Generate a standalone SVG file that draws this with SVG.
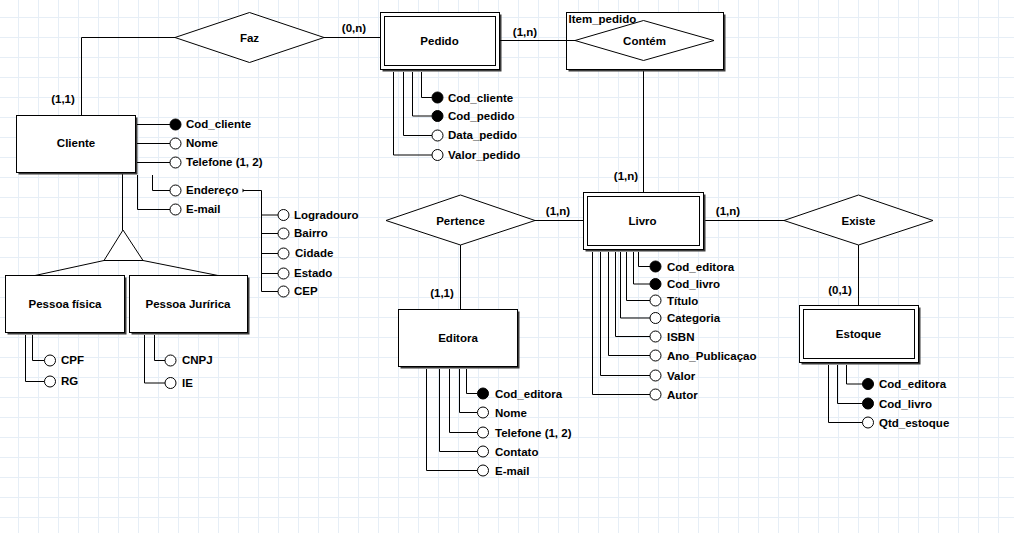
<svg xmlns="http://www.w3.org/2000/svg" width="1014" height="533" viewBox="0 0 1014 533">
<defs>
<pattern id="grid" x="0" y="0" width="20" height="20" patternUnits="userSpaceOnUse">
<path d="M18.5,0 V20 M0,17.5 H20" stroke="#e6eef6" stroke-width="1" fill="none"/>
</pattern>
<style>
text{font-family:"Liberation Sans",Arial,sans-serif;font-weight:bold;font-size:11.5px;fill:#000}
.c{text-anchor:middle;dominant-baseline:central}
.l{dominant-baseline:central}
.ent{fill:#fff;stroke:#000;stroke-width:1}
.sh{fill:#3a3a3a}
.rel{fill:#fff;stroke:#000;stroke-width:1}
.ln{fill:none;stroke:#000;stroke-width:1}
.ao{fill:#fff;stroke:#000;stroke-width:1}
.af{fill:#000;stroke:#000;stroke-width:1}
</style>
</defs>
<rect width="1014" height="533" fill="#fff"/>
<rect width="1014" height="533" fill="url(#grid)"/>

<g id="connectors">
<path class="ln" d="M81.5,115 V37.5 H175"/>
<path class="ln" d="M324,37.5 H380"/>
<path class="ln" d="M500,40.5 H575"/>
<path class="ln" d="M643.5,60.5 V192"/>
<path class="ln" d="M535,220.5 H583"/>
<path class="ln" d="M460.5,245 V309"/>
<path class="ln" d="M704,220.5 H784"/>
<path class="ln" d="M858.5,245 V305"/>
<path class="ln" d="M122.5,172 V230"/>
<path class="ln" d="M104,260.5 L35,275.5 M143,260.5 L218,275.5"/>
<text class="c" x="63" y="99">(1,1)</text>
<text class="c" x="354" y="28">(0,n)</text>
<text class="c" x="525" y="32">(1,n)</text>
<text class="c" x="626" y="176">(1,n)</text>
<text class="c" x="558" y="211">(1,n)</text>
<text class="c" x="442" y="293">(1,1)</text>
<text class="c" x="728" y="211">(1,n)</text>
<text class="c" x="840" y="290">(0,1)</text>
</g>

<g id="generalization">
<polygon class="rel" points="123,230 104,260.5 143,260.5"/>
</g>

<g id="Cliente">
<rect class="sh" x="18.5" y="117.5" width="119" height="57"/>
<rect class="ent" x="16.5" y="115.5" width="119" height="57"/>
<text class="c" x="76" y="143">Cliente</text>
<path class="ln" d="M137,124.5 H170 M137,143.5 H170 M137,162.5 H170 M152.5,175 V190.5 H170 M137.5,175 V209.5 H170"/>
<circle class="af" cx="175.5" cy="124.5" r="5.5"/>
<circle class="ao" cx="175.5" cy="143.5" r="5.5"/>
<circle class="ao" cx="175.5" cy="162.5" r="5.5"/>
<circle class="ao" cx="175.5" cy="190.5" r="5.5"/>
<circle class="ao" cx="175.5" cy="209.5" r="5.5"/>
<text class="l" x="186" y="124">Cod_cliente</text>
<text class="l" x="186" y="143">Nome</text>
<text class="l" x="186" y="162">Telefone (1, 2)</text>
<text class="l" x="186" y="190">Endereço</text>
<text class="l" x="186" y="209">E-mail</text>
<path d="M242.5,188.5 L244.5,190.5 L242.5,192.5 Z" fill="#000"/>
<path class="ln" d="M244,190.5 H261.5 V291.5 M261.5,215 H278 M261.5,233.5 H278 M261.5,253.5 H278 M261.5,273.5 H278 M261.5,291.5 H278"/>
<circle class="ao" cx="283.5" cy="215" r="5.5"/>
<circle class="ao" cx="283.5" cy="233.5" r="5.5"/>
<circle class="ao" cx="283.5" cy="253.5" r="5.5"/>
<circle class="ao" cx="283.5" cy="273.5" r="5.5"/>
<circle class="ao" cx="283.5" cy="291.5" r="5.5"/>
<text class="l" x="294" y="214.5">Logradouro</text>
<text class="l" x="294" y="233">Bairro</text>
<text class="l" x="295" y="253">Cidade</text>
<text class="l" x="294" y="273">Estado</text>
<text class="l" x="294" y="291">CEP</text>
</g>

<g id="Faz">
<polygon class="rel" points="175,37.5 249.5,12.5 324,37.5 249.5,62.5"/>
<text class="c" x="249.5" y="37.5">Faz</text>
</g>

<g id="Pedido">
<rect class="sh" x="382.5" y="14.5" width="119" height="57"/>
<rect class="ent" x="380.5" y="12.5" width="119" height="57"/>
<rect class="ent" x="384.5" y="16.5" width="111" height="49"/>
<text class="c" x="439.5" y="41">Pedido</text>
<path class="ln" d="M421.5,72 V97.5 H432 M412.5,72 V116 H432 M403.5,72 V135.5 H432 M393.5,72 V155 H432"/>
<circle class="af" cx="437.5" cy="97.5" r="5.5"/>
<circle class="af" cx="437.5" cy="116" r="5.5"/>
<circle class="ao" cx="437.5" cy="135.5" r="5.5"/>
<circle class="ao" cx="437.5" cy="155" r="5.5"/>
<text class="l" x="448" y="97.5">Cod_cliente</text>
<text class="l" x="448" y="115.5">Cod_pedido</text>
<text class="l" x="448" y="135">Data_pedido</text>
<text class="l" x="448" y="155">Valor_pedido</text>
</g>

<g id="Item_pedido">
<rect class="sh" x="568.5" y="14.5" width="157" height="57"/>
<rect class="ent" x="566.5" y="12.5" width="157" height="57"/>
<path class="ln" d="M500,40.5 H575"/>
<polygon class="rel" points="575,40.5 643.5,20.5 714,40.5 643.5,60.5"/>
<text x="568.5" y="23">Item_pedido</text>
<text class="c" x="644.5" y="41">Contém</text>
</g>

<g id="Livro">
<rect class="sh" x="585.5" y="194.5" width="120" height="57"/>
<rect class="ent" x="583.5" y="192.5" width="120" height="57"/>
<rect class="ent" x="587.5" y="196.5" width="112" height="49"/>
<text class="c" x="642.5" y="221">Livro</text>
<path class="ln" d="M638.5,252 V266.5 H650 M633.5,252 V284 H650 M626.5,252 V300.5 H650 M620.5,252 V318 H650 M615.5,252 V336.5 H650 M608.5,252 V355.5 H650 M600.5,252 V375.5 H650 M592.5,252 V394.5 H650"/>
<circle class="af" cx="655.5" cy="266.5" r="5.5"/>
<circle class="af" cx="655.5" cy="284" r="5.5"/>
<circle class="ao" cx="655.5" cy="300.5" r="5.5"/>
<circle class="ao" cx="655.5" cy="318" r="5.5"/>
<circle class="ao" cx="655.5" cy="336.5" r="5.5"/>
<circle class="ao" cx="655.5" cy="355.5" r="5.5"/>
<circle class="ao" cx="655.5" cy="375.5" r="5.5"/>
<circle class="ao" cx="655.5" cy="394.5" r="5.5"/>
<text class="l" x="667" y="266.5">Cod_editora</text>
<text class="l" x="667" y="284">Cod_livro</text>
<text class="l" x="667" y="300.5">Título</text>
<text class="l" x="667" y="318">Categoria</text>
<text class="l" x="667" y="336.5">ISBN</text>
<text class="l" x="667" y="355.5">Ano_Publicaçao</text>
<text class="l" x="667" y="375.5">Valor</text>
<text class="l" x="667" y="394.5">Autor</text>
</g>

<g id="Pertence">
<polygon class="rel" points="386,220.5 460.5,195 535,220.5 460.5,245"/>
<text class="c" x="460.5" y="221">Pertence</text>
</g>

<g id="Editora">
<rect class="sh" x="400.5" y="311.5" width="119" height="57"/>
<rect class="ent" x="398.5" y="309.5" width="119" height="57"/>
<text class="c" x="458" y="338">Editora</text>
<path class="ln" d="M466.5,369 V393.5 H477.5 M459.5,369 V412.5 H477.5 M449.5,369 V432.5 H477.5 M439.5,369 V451.5 H477.5 M426.5,369 V470.5 H477.5"/>
<circle class="af" cx="483" cy="393.5" r="5.5"/>
<circle class="ao" cx="483" cy="412.5" r="5.5"/>
<circle class="ao" cx="483" cy="432.5" r="5.5"/>
<circle class="ao" cx="483" cy="451.5" r="5.5"/>
<circle class="ao" cx="483" cy="470.5" r="5.5"/>
<text class="l" x="495" y="393.5">Cod_editora</text>
<text class="l" x="495" y="412.5">Nome</text>
<text class="l" x="495" y="432.5">Telefone (1, 2)</text>
<text class="l" x="495" y="451.5">Contato</text>
<text class="l" x="495" y="470.5">E-mail</text>
</g>

<g id="Existe">
<polygon class="rel" points="784,220.5 858.5,195 933,220.5 858.5,245"/>
<text class="c" x="858.5" y="221">Existe</text>
</g>

<g id="Estoque">
<rect class="sh" x="801.5" y="307.5" width="119" height="57"/>
<rect class="ent" x="799.5" y="305.5" width="119" height="57"/>
<rect class="ent" x="803.5" y="309.5" width="111" height="49"/>
<text class="c" x="858.5" y="334">Estoque</text>
<path class="ln" d="M846.5,365 V384 H862.5 M837.5,365 V403.5 H862.5 M828.5,365 V422.5 H862.5"/>
<circle class="af" cx="868" cy="384" r="5.5"/>
<circle class="af" cx="868" cy="403.5" r="5.5"/>
<circle class="ao" cx="868" cy="422.5" r="5.5"/>
<text class="l" x="879" y="384">Cod_editora</text>
<text class="l" x="879" y="403.5">Cod_livro</text>
<text class="l" x="879" y="422.5">Qtd_estoque</text>
</g>

<g id="Pessoa_fisica">
<rect class="sh" x="7.5" y="277.5" width="119" height="57"/>
<rect class="ent" x="5.5" y="275.5" width="119" height="57"/>
<text class="c" x="65" y="303.5">Pessoa física</text>
<path class="ln" d="M32.5,335 V360.5 H44.5 M25.5,335 V381.5 H44.5"/>
<circle class="ao" cx="50" cy="360.5" r="5.5"/>
<circle class="ao" cx="50" cy="381.5" r="5.5"/>
<text class="l" x="61" y="360">CPF</text>
<text class="l" x="61" y="381">RG</text>
</g>

<g id="Pessoa_juridica">
<rect class="sh" x="131.5" y="277.5" width="118" height="57"/>
<rect class="ent" x="129.5" y="275.5" width="118" height="57"/>
<text class="c" x="188" y="303.5">Pessoa Jurírica</text>
<path class="ln" d="M154.5,335 V360.5 H165 M144.5,335 V383 H165"/>
<circle class="ao" cx="170.5" cy="360.5" r="5.5"/>
<circle class="ao" cx="170.5" cy="383" r="5.5"/>
<text class="l" x="182" y="360">CNPJ</text>
<text class="l" x="182" y="383">IE</text>
</g>
</svg>
